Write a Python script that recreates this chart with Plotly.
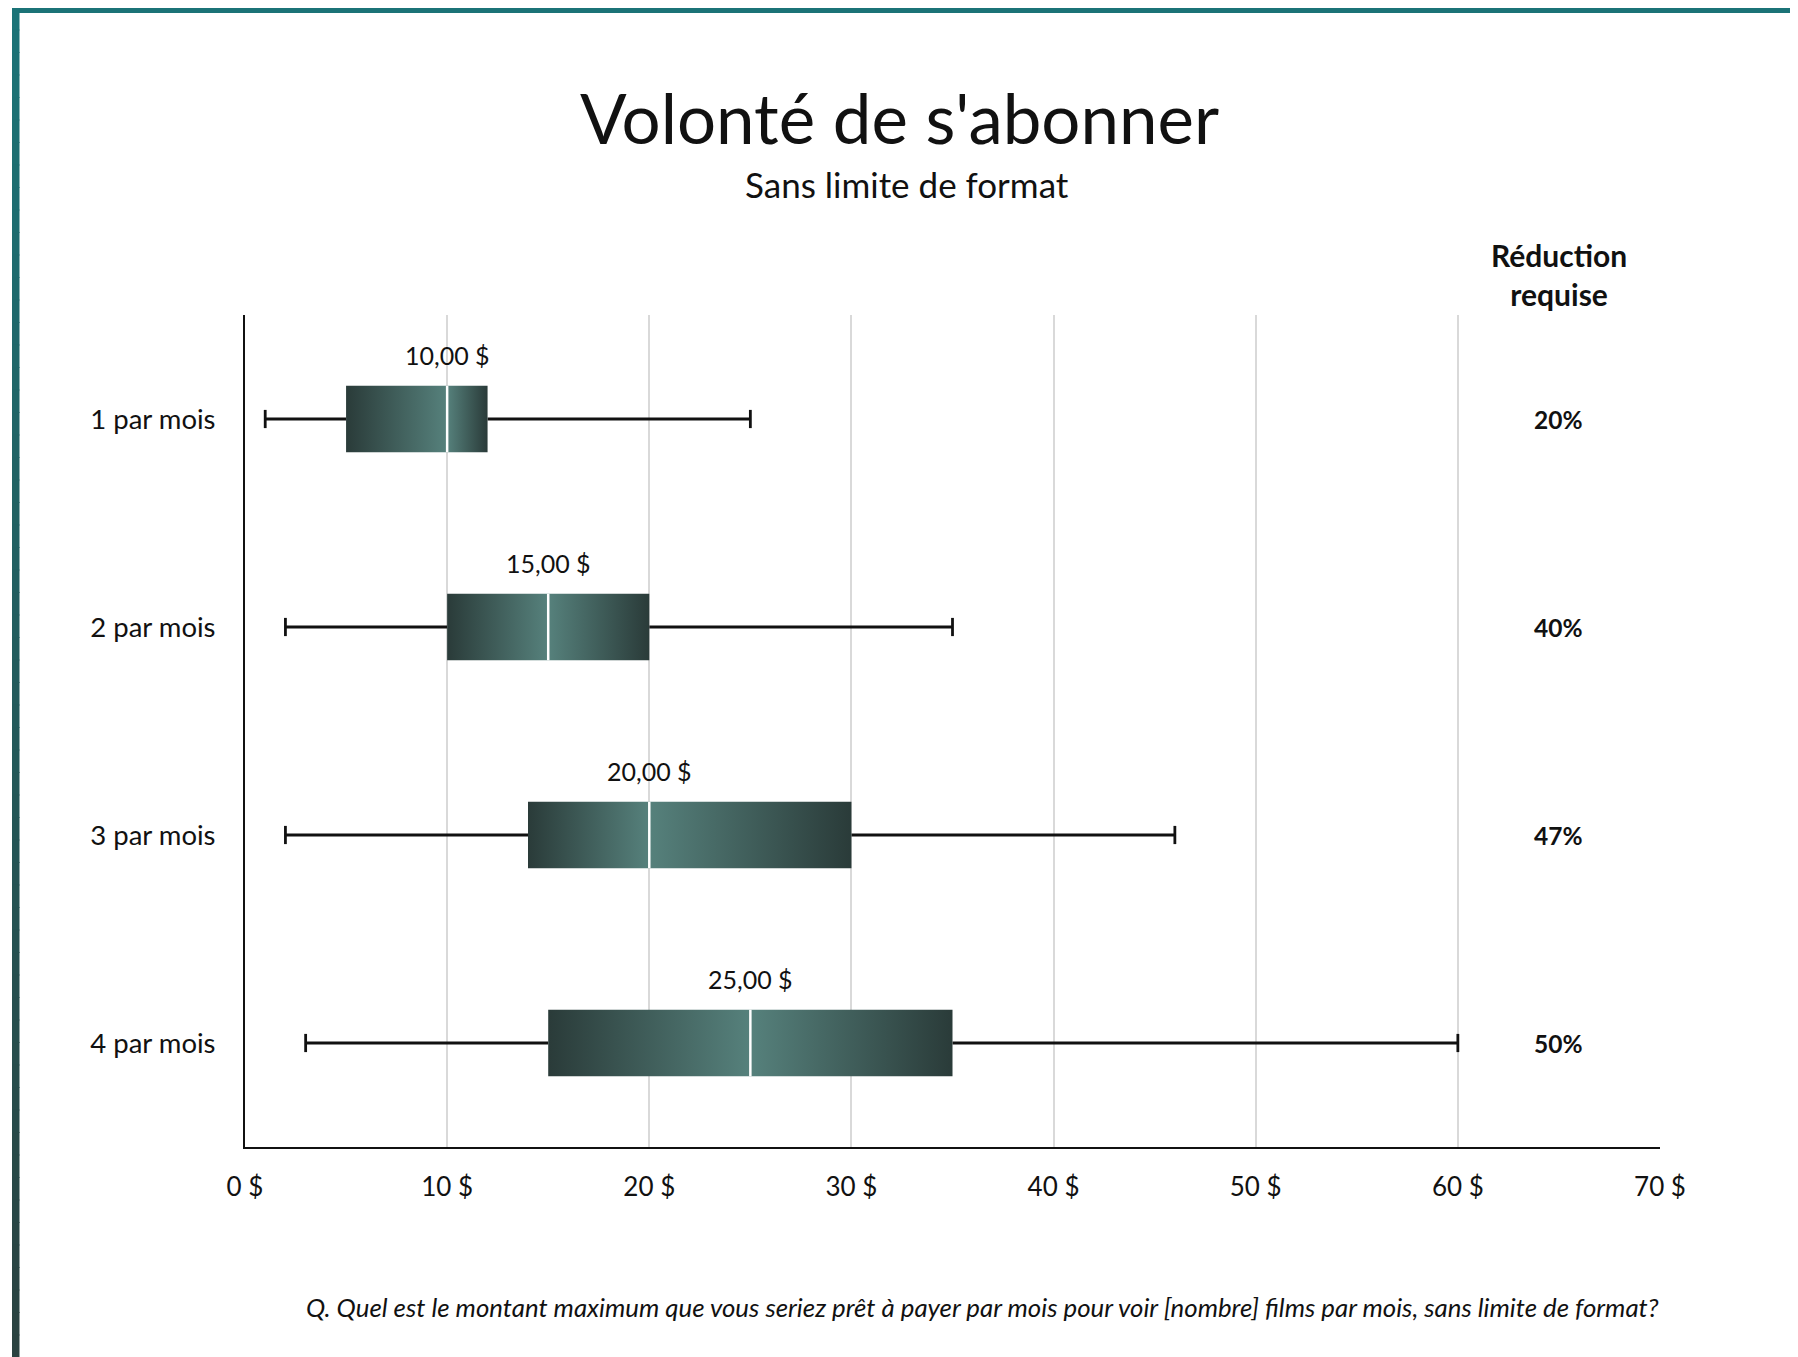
import plotly.graph_objects as go

categories = ["1 par mois", "2 par mois", "3 par mois", "4 par mois"]
mins = [1, 2, 2, 3]
q1s = [5, 10, 14, 15]
medians = [10, 15, 20, 25]
q3s = [12, 20, 30, 35]
maxs = [25, 35, 46, 60]
reductions = ["20%", "40%", "47%", "50%"]
x_ticks = [0, 10, 20, 30, 40, 50, 60, 70]

FONT = "Lato"
DARK = "#2a3b39"
LIGHT = "#56817c"
OFF = 8  # page body margin
W, H = 1798 - OFF, 1357 - OFF
L, R, T, B = 245 - OFF, 138, 315 - OFF, 210
pw, ph = W - L - R, H - T - B


def px(x):
    # page pixel -> paper x
    return (x - OFF - L) / pw


def py(y):
    # page pixel -> paper y
    return (H - B - (y - OFF)) / ph


half = 0.16
fig = go.Figure()

for i, cat in enumerate(categories):
    top, bot = i - half, i + half
    # whiskers
    for a, b in [(mins[i], q1s[i]), (q3s[i], maxs[i])]:
        fig.add_trace(go.Scatter(x=[a, b], y=[i, i], mode="lines",
                                 line=dict(color="#111111", width=2.8),
                                 hoverinfo="skip", showlegend=False))
    fig.add_trace(go.Scatter(x=[mins[i], maxs[i]], y=[i, i], mode="markers",
                             marker=dict(symbol="line-ns", size=13,
                                         line=dict(color="#111111", width=2.8)),
                             hoverinfo="skip", showlegend=False))
    # box halves with gradient
    fig.add_trace(go.Scatter(x=[q1s[i], medians[i], medians[i], q1s[i], q1s[i]],
                             y=[top, top, bot, bot, top], mode="lines", fill="toself",
                             line=dict(width=0),
                             fillgradient=dict(type="horizontal",
                                               colorscale=[[0, DARK], [1, LIGHT]]),
                             hoverinfo="skip", showlegend=False))
    fig.add_trace(go.Scatter(x=[medians[i], q3s[i], q3s[i], medians[i], medians[i]],
                             y=[top, top, bot, bot, top], mode="lines", fill="toself",
                             line=dict(width=0),
                             fillgradient=dict(type="horizontal",
                                               colorscale=[[0, LIGHT], [1, DARK]]),
                             hoverinfo="skip", showlegend=False))
    # median
    fig.add_trace(go.Scatter(x=[medians[i], medians[i]], y=[top, bot], mode="lines",
                             line=dict(color="white", width=2.5),
                             hoverinfo="skip", showlegend=False))
    fig.add_annotation(x=medians[i], y=top, yanchor="bottom", yshift=14,
                       text=f"{medians[i]:.2f}".replace(".", ",") + " $",
                       showarrow=False, font=dict(size=25, color="#111111"))
    fig.add_annotation(x=65, y=i, yanchor="middle", text=f"<b>{reductions[i]}</b>",
                       showarrow=False, font=dict(size=24.5, color="#111111"))

fig.add_annotation(x=65, y=py(275), xref="x", yref="paper", yanchor="middle",
                   text="<b>Réduction<br>requise</b>", showarrow=False,
                   font=dict(size=30, color="#111111"))
fig.add_annotation(x=px(899), y=py(118), xref="paper", yref="paper",
                   xanchor="center", yanchor="middle",
                   text="Volonté de s'abonner", showarrow=False,
                   font=dict(size=69, color="#111111"))
fig.add_annotation(x=px(907), y=py(184), xref="paper", yref="paper",
                   xanchor="center", yanchor="middle",
                   text="Sans limite de format", showarrow=False,
                   font=dict(size=35, color="#111111"))
fig.add_annotation(x=px(1661), y=py(1307), xref="paper", yref="paper",
                   xanchor="right", yanchor="middle",
                   text="<i>Q. Quel est le montant maximum que vous seriez prêt à payer par mois "
                        "pour voir [nombre] films par mois, sans limite de format?</i>",
                   showarrow=False, font=dict(size=25.8, color="#111111"))

# frame: teal top bar and left bar fading to dark
shapes = [dict(type="rect", xref="paper", yref="paper", x0=px(12), x1=px(1798 + 5),
               y0=py(7), y1=py(13), fillcolor="#1b7377", line=dict(width=0))]
n = 60
c0, c1 = (0x1b, 0x73, 0x77), (0x2a, 0x42, 0x40)
for k in range(n):
    t = k / (n - 1)
    col = "rgb(%d,%d,%d)" % tuple(round(c0[j] + (c1[j] - c0[j]) * t) for j in range(3))
    ya = 7 + (1357 - 7) * k / n
    yb = 7 + (1357 - 7) * (k + 1) / n + 1
    shapes.append(dict(type="rect", xref="paper", yref="paper", x0=px(12), x1=px(19.5),
                       y0=py(ya), y1=py(yb), fillcolor=col, line=dict(width=0)))

fig.update_layout(
    width=W, height=H,
    margin=dict(l=L, r=R, t=T, b=B),
    paper_bgcolor="white", plot_bgcolor="white",
    font=dict(family=FONT, color="#111111"),
    shapes=shapes,
    xaxis=dict(range=[0, 70], tickvals=x_ticks, ticktext=[f"{v} $" for v in x_ticks],
               showgrid=True, gridcolor="#d9d9d9", gridwidth=1.5, zeroline=False,
               showline=True, linecolor="#111111", linewidth=2,
               tickfont=dict(size=26), ticks="", ticklabelstandoff=16),
    yaxis=dict(range=[3.5, -0.5], tickvals=list(range(len(categories))), ticktext=categories,
               showgrid=False, zeroline=False, showline=True, linecolor="#111111",
               linewidth=2, tickfont=dict(size=27.5), ticks="", ticklabelstandoff=22),
)

fig.write_html("out.html")
